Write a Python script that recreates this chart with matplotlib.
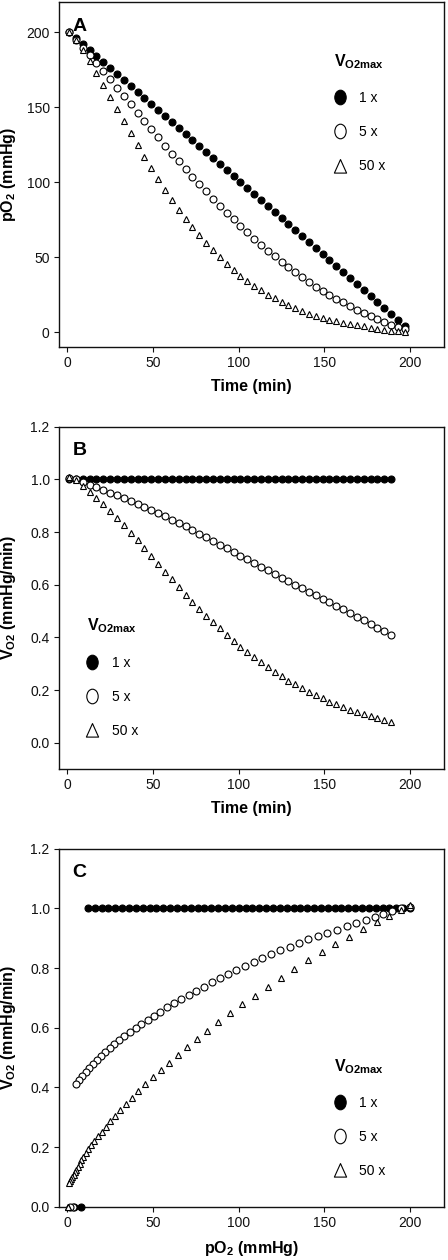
import numpy as np
import matplotlib
matplotlib.use("Agg")
import matplotlib.pyplot as plt
from matplotlib.lines import Line2D
from matplotlib.path import Path
from matplotlib.transforms import Affine2D

plt.rcParams['font.family'] = ['Liberation Sans', 'DejaVu Sans']
plt.rcParams['mathtext.fontset'] = 'custom'
plt.rcParams['mathtext.rm'] = 'Liberation Sans'
plt.rcParams['mathtext.bf'] = 'Liberation Sans:bold'
plt.rcParams['mathtext.it'] = 'Liberation Sans:italic'

# ---------------- data ----------------
time = [1, 5, 9, 13, 17, 21, 25, 29, 33, 37, 41, 45, 49, 53, 57, 61, 65, 69, 73, 77,
        81, 85, 89, 93, 97, 101, 105, 109, 113, 117, 121, 125, 129, 133, 137, 141,
        145, 149, 153, 157, 161, 165, 169, 173, 177, 181, 185, 189, 193, 197]

po2_1x = [200, 196, 192, 188, 184, 180, 176, 172, 168, 164, 160, 156, 152, 148, 144,
          140, 136, 132, 128, 124, 120, 116, 112, 108, 104, 100, 96, 92, 88, 84, 80,
          76, 72, 68, 64, 60, 56, 52, 48, 44, 40, 36, 32, 28, 24, 20, 16, 12, 8, 4]
po2_5x = [200, 194.7, 189.5, 184.5, 179.4, 174.2, 168.6, 163.1, 157.5, 151.8, 146.2,
          140.7, 135.2, 129.8, 124.4, 119.1, 113.9, 108.8, 103.7, 98.7, 93.9, 89.0,
          84.2, 79.7, 75.2, 70.8, 66.5, 62.3, 58.2, 54.3, 50.5, 46.8, 43.2, 39.8,
          36.5, 33.3, 30.2, 27.5, 24.8, 22.2, 19.7, 17.3, 15.0, 12.8, 10.7, 8.7, 6.8,
          5.0, 3.3, 1.7]
po2_50x = [200, 194.5, 188, 180.5, 172.5, 164.5, 156.5, 148.5, 140.5, 132.5, 124.5,
           117, 109.5, 102, 95, 88, 81.5, 75.5, 70, 64.5, 59.5, 54.5, 50, 45.5, 41.5,
           37.5, 34, 30.8, 27.8, 25, 22.4, 20, 17.8, 15.8, 14, 12.3, 10.8, 9.4, 8.2,
           7.1, 6.1, 5.2, 4.4, 3.7, 3.0, 2.2, 1.5, 0.9, 0.5, 0.2]

# VO2 (shown for the first 48 time points in panel B)
vo2_1x = [1.0, 1.0, 1.0, 1.0, 1.0, 1.0, 1.0, 1.0, 1.0, 1.0, 1.0, 1.0,
          1.0, 1.0, 1.0, 1.0, 1.0, 1.0, 1.0, 1.0, 1.0, 1.0, 1.0, 1.0,
          1.0, 1.0, 1.0, 1.0, 1.0, 1.0, 1.0, 1.0, 1.0, 1.0, 1.0, 1.0,
          1.0, 1.0, 1.0, 1.0, 1.0, 1.0, 1.0, 1.0, 1.0, 1.0, 1.0, 1.0]
vo2_5x = [1.005, 1.0, 0.99, 0.98, 0.97, 0.96, 0.95, 0.94, 0.929, 0.918, 0.907, 0.896,
          0.884, 0.872, 0.86, 0.847, 0.834, 0.821, 0.808, 0.794, 0.780, 0.766, 0.752,
          0.738, 0.724, 0.71, 0.696, 0.682, 0.668, 0.654, 0.64, 0.627, 0.614, 0.600,
          0.587, 0.574, 0.560, 0.547, 0.533, 0.519, 0.506, 0.492, 0.478, 0.465, 0.451,
          0.437, 0.424, 0.410]
vo2_50x = [1.01, 0.996, 0.975, 0.953, 0.93, 0.905, 0.88, 0.854, 0.826, 0.797, 0.768,
           0.738, 0.708, 0.678, 0.649, 0.62, 0.59, 0.562, 0.535, 0.508, 0.482, 0.458,
           0.434, 0.41, 0.387, 0.365, 0.344, 0.324, 0.305, 0.287, 0.269, 0.252, 0.236,
           0.221, 0.207, 0.193, 0.180, 0.168, 0.156, 0.145, 0.135, 0.125, 0.116, 0.108,
           0.100, 0.093, 0.086, 0.080]
# VO2 at the last two time points (shown only in panel C)
vo2_tail = [0.0, 0.0]

labels = ['1 x', '5 x', '50 x']
x_ticks = [0, 50, 100, 150, 200]
yA_ticks = [0, 50, 100, 150, 200]
yB_ticks = [0.0, 0.2, 0.4, 0.6, 0.8, 1.0, 1.2]

n_b = len(vo2_1x)

# ---------------- styles ----------------
MS_C = 5.0
MS_T = 5.0
MEW = 0.8
styles = [
    dict(marker='o', ms=MS_C, mfc='black', mec='black', mew=MEW),
    dict(marker='o', ms=MS_C, mfc='white', mec='black', mew=MEW),
    dict(marker='^', ms=MS_T, mfc='white', mec='black', mew=MEW),
]

ellipse = Path.unit_circle().transformed(Affine2D().scale(0.78, 1.0))
tri = Path([(0, 1), (-0.88, -0.95), (0.88, -0.95), (0, 1)],
           [Path.MOVETO, Path.LINETO, Path.LINETO, Path.CLOSEPOLY])
leg_handles = [
    Line2D([], [], ls='none', marker=ellipse, ms=10.5, mfc='black', mec='black', mew=0.8),
    Line2D([], [], ls='none', marker=ellipse, ms=10.5, mfc='white', mec='black', mew=0.8),
    Line2D([], [], ls='none', marker=tri, ms=10.0, mfc='white', mec='black', mew=0.8),
]
leg_title = r'$\mathbf{V_{O2max}}$'

fig = plt.figure(figsize=(4.48, 12.6), dpi=100)
L, W = 0.1312, 0.8605
axA = fig.add_axes([L, 0.7246, W, 0.2736])
axB = fig.add_axes([L, 0.38968, W, 0.27167])
axC = fig.add_axes([L, 0.04214, W, 0.28437])


def style_axis(ax):
    for s in ax.spines.values():
        s.set_linewidth(1.0)
        s.set_color('#111111')
    ax.tick_params(direction='out', length=3.5, width=0.8, labelsize=10, pad=3.0,
                   colors='#111111')
    ax.set_xlim(-5, 220)
    ax.set_xticks(x_ticks)


def add_legend(ax, x, y):
    lg = ax.legend(leg_handles, labels, title=leg_title, loc='upper left',
                   bbox_to_anchor=(x, y), frameon=False, fontsize=10, title_fontsize=11.5,
                   handlelength=0.8, handletextpad=1.0, labelspacing=1.45,
                   borderpad=0, borderaxespad=0, alignment='left')
    return lg


LABEL_FS = 11.5

# ---- Panel A ----
axA.plot(time, po2_1x, ls='none', zorder=3, **styles[0])
axA.plot(time, po2_5x, ls='none', zorder=4, **styles[1])
axA.plot(time, po2_50x, ls='none', zorder=5, **styles[2])
style_axis(axA)
axA.set_ylim(-10, 220)
axA.set_yticks(yA_ticks)
axA.set_xlabel('Time (min)', fontsize=LABEL_FS, fontweight='bold')
axA.set_ylabel(r'p$\mathbf{O_2}$ (mmHg)', fontsize=LABEL_FS, fontweight='bold')
axA.xaxis.set_label_coords(0.5, -0.093)
axA.yaxis.set_label_coords(-0.106, 0.5)
axA.text(0.035, 0.917, 'A', transform=axA.transAxes, fontsize=14, fontweight='bold')
add_legend(axA, 0.714, 0.855)

# ---- Panel B ----
axB.plot(time[:n_b], vo2_1x, ls='none', zorder=3, **styles[0])
axB.plot(time[:n_b], vo2_5x, ls='none', zorder=4, **styles[1])
axB.plot(time[:n_b], vo2_50x, ls='none', zorder=5, **styles[2])
style_axis(axB)
axB.set_ylim(-0.1, 1.2)
axB.set_yticks(yB_ticks)
axB.yaxis.set_major_formatter(matplotlib.ticker.FormatStrFormatter('%.1f'))
axB.set_xlabel('Time (min)', fontsize=LABEL_FS, fontweight='bold')
axB.set_ylabel(r'$\mathbf{V_{O2}}$ (mmHg/min)', fontsize=LABEL_FS, fontweight='bold')
axB.xaxis.set_label_coords(0.5, -0.0935)
axB.yaxis.set_label_coords(-0.106, 0.5)
axB.text(0.035, 0.917, 'B', transform=axB.transAxes, fontsize=14, fontweight='bold')
add_legend(axB, 0.073, 0.445)

# ---- Panel C ----
for po2, vo2, st, z in [(po2_1x, vo2_1x, styles[0], 3), (po2_5x, vo2_5x, styles[1], 4),
                        (po2_50x, vo2_50x, styles[2], 5)]:
    axC.plot(po2, list(vo2) + vo2_tail, ls='none', zorder=z, clip_on=False, **st)
style_axis(axC)
axC.set_ylim(0, 1.2)
axC.set_yticks(yB_ticks)
axC.yaxis.set_major_formatter(matplotlib.ticker.FormatStrFormatter('%.1f'))
axC.set_xlabel(r'p$\mathbf{O_2}$ (mmHg)', fontsize=LABEL_FS, fontweight='bold')
axC.set_ylabel(r'$\mathbf{V_{O2}}$ (mmHg/min)', fontsize=LABEL_FS, fontweight='bold')
axC.xaxis.set_label_coords(0.5, -0.089)
axC.yaxis.set_label_coords(-0.106, 0.5)
axC.text(0.035, 0.921, 'C', transform=axC.transAxes, fontsize=14, fontweight='bold')
add_legend(axC, 0.714, 0.418)

fig.savefig('out.png', dpi=100)
